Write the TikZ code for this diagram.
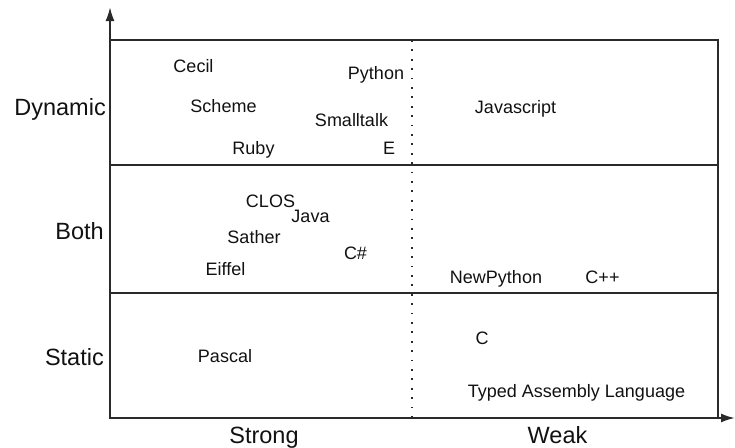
\documentclass[tikz,border=0pt]{standalone}
\usepackage{fontspec}
\setmainfont{Liberation Sans}
\usetikzlibrary{arrows.meta}
\definecolor{ink}{HTML}{111111}
\definecolor{linec}{HTML}{2A2A2A}
\tikzset{
  lbl/.style={font=\fontsize{18}{20}\selectfont, text=ink, inner sep=0pt, anchor=base},
  axlbl/.style={font=\fontsize{23.5}{26}\selectfont, text=ink, inner sep=0pt},
  frame/.style={draw=linec, line width=2pt},
  axis/.style={draw=linec, line width=2pt, -{Latex[length=14pt,width=9pt]}},
  divider/.style={draw=linec, line width=1.8pt, dash pattern=on 1.8pt off 7.6pt}
}
\begin{document}
\begin{tikzpicture}[x=1pt,y=-1pt]
\useasboundingbox (0,0) rectangle (735,447);
% frame
\coordinate (o) at (110,418);
\coordinate (ytip) at (110,7);
\coordinate (xtip) at (735,418);
\coordinate (tl) at (110,40);
\coordinate (br) at (718,418);
\coordinate (r1l) at (110,165);
\coordinate (r1r) at (718,165);
\coordinate (r2l) at (110,293);
\coordinate (r2r) at (718,293);
\coordinate (dtop) at (412,40);
\coordinate (dbot) at (412,418);
\draw[frame] (tl) rectangle (br);
\draw[frame] (r1l) -- (r1r);
\draw[frame] (r2l) -- (r2r);
\draw[divider] (dtop) -- (dbot);
\draw[axis] (o) -- (ytip);
\draw[axis] (o) -- (xtip);
% axis labels
\node[axlbl, anchor=base east] (dyn) at (106,115) {Dynamic};
\node[axlbl, anchor=base east] (both) at (104,239) {Both};
\node[axlbl, anchor=base east] (stat) at (104,365) {Static};
\node[axlbl, anchor=base] (strong) at (264,443) {Strong};
\node[axlbl, anchor=base] (weak) at (557.5,443) {Weak};
% dynamic
\node[lbl] (cecil) at (193.5,72) {Cecil};
\node[lbl] (python) at (376,79) {Python};
\node[lbl] (scheme) at (223.5,112) {Scheme};
\node[lbl] (smalltalk) at (351.5,126) {Smalltalk};
\node[lbl] (ruby) at (253.5,154) {Ruby};
\node[lbl] (e) at (389,154) {E};
\node[lbl] (js) at (515.5,113) {Javascript};
% both
\node[lbl] (clos) at (270.5,207) {CLOS};
\node[lbl] (java) at (310.5,222) {Java};
\node[lbl] (sather) at (254,243) {Sather};
\node[lbl] (csharp) at (355.5,259) {C\#};
\node[lbl] (eiffel) at (225.5,275) {Eiffel};
\node[lbl] (newpy) at (496,283) {NewPython};
\node[lbl] (cpp) at (602.5,283) {C++};
% static
\node[lbl] (pascal) at (225,362) {Pascal};
\node[lbl] (c) at (482,344) {C};
\node[lbl] (tal) at (576.5,397) {Typed Assembly Language};
\end{tikzpicture}
\end{document}
